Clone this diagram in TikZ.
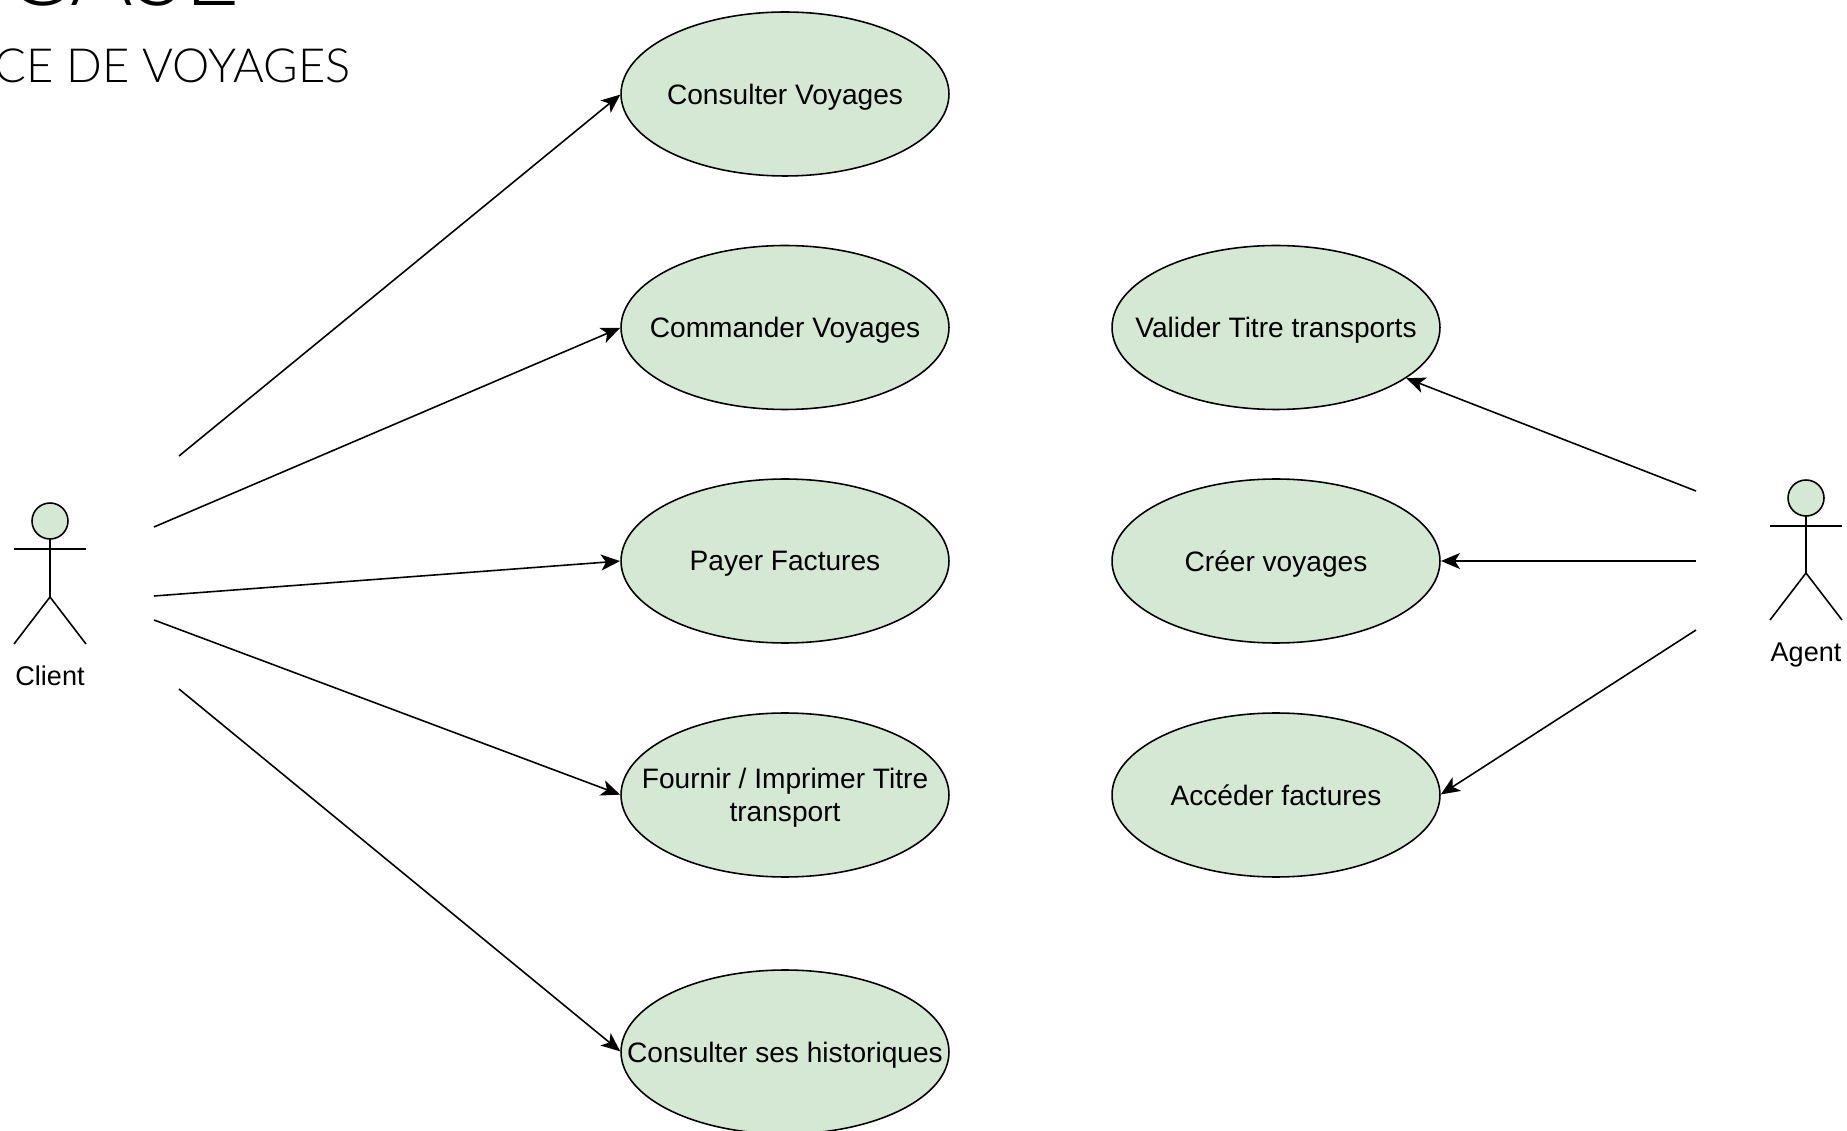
\documentclass[tikz,border=0pt]{standalone}
\usepackage{fontspec}
\setmainfont{Liberation Sans}
\newfontfamily\titlefont{Lato Light}
\usepackage{xcolor}
\usetikzlibrary{shapes.geometric}
\usetikzlibrary{arrows.meta}
\definecolor{usecasegreen}{HTML}{D5E8D4}
\tikzset{every edge/.style={shorten >=0.2mm, draw}}
\tikzset{usecase/.style={draw, ellipse, fill=usecasegreen, minimum width=6.56cm, minimum height=3.28cm, inner xsep=-1cm, inner ysep=0pt, outer sep=0pt, align=center, text depth=0pt, font=\fontsize{16}{18.8}\selectfont}}
\tikzset{actorhead/.style={draw, circle, fill=usecasegreen, minimum size=0.72cm, inner sep=0pt, outer sep=0pt}}
\tikzset{actorname/.style={font=\fontsize{15.4}{18.8}\selectfont}}

\begin{document}
\begin{tikzpicture}[x=0.02cm, y=-0.02cm, >={Stealth[length=3.8mm, width=3.2mm, inset=1mm]}, line width=0.9pt]
    \path[use as bounding box, clip] (0, 0) rectangle (1847, 1131);

    \node[anchor=base west, inner sep=0pt, font=\titlefont\fontsize{54.4}{60}\selectfont] at (5, 6) (title) {CASE};
    \node[anchor=base west, inner sep=0pt, font=\titlefont\fontsize{26.8}{30}\selectfont] at (-6, 83) (subtitle) {CE DE VOYAGES};

    \node[usecase] at (785, 94) (consulter) {Consulter Voyages};
    \node[usecase] at (785, 327.5) (commander) {Commander Voyages};
    \node[usecase] at (785, 561) (payer) {Payer Factures};
    \node[usecase] at (785, 795) (fournir) {Fournir / Imprimer Titre \\ transport};
    \node[usecase] at (785, 1052) (historiques) {Consulter ses historiques};

    \node[usecase] at (1276, 327.5) (valider) {Valider Titre transports};
    \node[usecase] at (1276, 561) (creer) {Créer voyages};
    \node[usecase] at (1276, 795) (acceder) {Accéder factures};

    % client
    \node[actorhead] at (50, 521) (clientHead) {};
    \coordinate (clientHip) at (50, 597);
    \draw (14, 549) -- (86, 549);
    \draw (clientHead) -- (clientHip);
    \draw (14, 644) -- (clientHip) -- (86, 644);
    \node[actorname] at (50, 676) (clientName) {Client};

    % agent
    \node[actorhead] at (1806, 498) (agentHead) {};
    \coordinate (agentHip) at (1806, 573);
    \draw (1770, 526) -- (1842, 526);
    \draw (agentHead) -- (agentHip);
    \draw (1770, 620) -- (agentHip) -- (1842, 620);
    \node[actorname] at (1806, 655) (agentName) {Agent};

    \coordinate (c1) at (179, 456);
    \coordinate (c2) at (154, 527);
    \coordinate (c3) at (154, 596);
    \coordinate (c4) at (154, 620);
    \coordinate (c5) at (179, 689);
    \coordinate (a1) at (1696, 491);
    \coordinate (a2) at (1696, 561);
    \coordinate (a3) at (1696, 630);

    \draw (c1) edge[->] (consulter.west);
    \draw (c2) edge[->] (commander.west);
    \draw (c3) edge[->] (payer.west);
    \draw (c4) edge[->] (fournir.west);
    \draw (c5) edge[->] (historiques.west);

    \draw (a1) edge[->] (valider);
    \draw (a2) edge[->] (creer.east);
    \draw (a3) edge[->] (acceder.east);
\end{tikzpicture}
\end{document}
